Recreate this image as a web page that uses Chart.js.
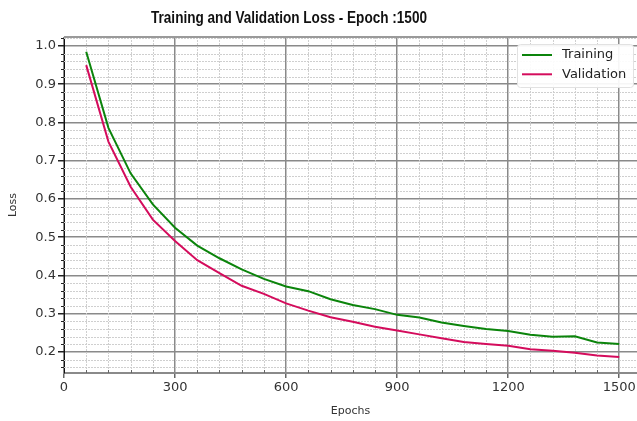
<!DOCTYPE html>
<html>
<head>
<meta charset="utf-8">
<script src="https://cdn.jsdelivr.net/npm/chart.js@4.4.1/dist/chart.umd.min.js"></script>
<style>
  html, body { margin: 0; padding: 0; background: #fff; }
  #wrap { width: 637px; height: 421px; position: relative; }
</style>
</head>
<body>
<div id="wrap"><canvas id="c" width="637" height="421"></canvas></div>
<script>
// Loss curves recorded every 60 epochs
const epochs = [60, 120, 180, 240, 300, 360, 420, 480, 540, 600, 660, 720, 780,
                840, 900, 960, 1020, 1080, 1140, 1200, 1260, 1320, 1380, 1440, 1500];
const trainingLoss = [0.985, 0.786, 0.667, 0.586, 0.525, 0.478, 0.445, 0.416, 0.391,
                      0.371, 0.359, 0.338, 0.323, 0.312, 0.297, 0.290, 0.277, 0.268,
                      0.260, 0.255, 0.245, 0.240, 0.241, 0.225, 0.221];
const validationLoss = [0.950, 0.750, 0.632, 0.546, 0.490, 0.440, 0.406, 0.373, 0.352,
                        0.327, 0.308, 0.291, 0.279, 0.266, 0.256, 0.246, 0.236, 0.226,
                        0.221, 0.216, 0.207, 0.203, 0.198, 0.191, 0.187];

// Axis ticks
const xMajorTicks = [0, 300, 600, 900, 1200, 1500];
const yMajorTicks = [0.2, 0.3, 0.4, 0.5, 0.6, 0.7, 0.8, 0.9, 1.0];
const xMinorStep = 60;
const yMinorStep = 0.02;

const titleText = 'Training and Validation Loss - Epoch :1500';
const seriesNames = ['Training', 'Validation'];
const seriesColors = ['#0b840b', '#d40c5c'];

const toPoints = (xs, ys) => xs.map((x, i) => ({ x: x, y: ys[i] }));

// Light dotted minor grid plus small minor tick marks
const minorGrid = {
  id: 'minorGrid',
  beforeDatasetsDraw(chart) {
    const { ctx, chartArea: a, scales: { x, y } } = chart;
    ctx.save();
    ctx.strokeStyle = '#cfcfcf';
    ctx.lineWidth = 1;
    ctx.setLineDash([2, 1]);
    ctx.beginPath();
    for (let v = 0; v <= x.max; v += xMinorStep) {
      if (v % 300 === 0) continue;
      const px = Math.round(x.getPixelForValue(v)) + 0.5;
      ctx.moveTo(px, a.top); ctx.lineTo(px, a.bottom);
    }
    for (let k = Math.ceil(y.min / yMinorStep); k * yMinorStep <= y.max; k++) {
      if (k % 5 === 0) continue;
      const py = Math.round(y.getPixelForValue(k * yMinorStep)) + 0.5;
      ctx.moveTo(a.left, py); ctx.lineTo(a.right, py);
    }
    ctx.stroke();
    ctx.setLineDash([]);
    // minor tick marks
    ctx.strokeStyle = '#222';
    ctx.beginPath();
    for (let k = Math.ceil(y.min / yMinorStep); k * yMinorStep <= y.max; k++) {
      if (k % 5 === 0) continue;
      const py = Math.round(y.getPixelForValue(k * yMinorStep)) + 0.5;
      ctx.moveTo(a.left - 3, py); ctx.lineTo(a.left, py);
    }
    ctx.stroke();
    ctx.strokeStyle = '#666';
    ctx.beginPath();
    for (let v = 0; v <= x.max; v += xMinorStep) {
      if (v % 300 === 0) continue;
      const px = Math.round(x.getPixelForValue(v)) + 0.5;
      ctx.moveTo(px, a.bottom - 3); ctx.lineTo(px, a.bottom);
    }
    ctx.stroke();
    // top frame line
    ctx.strokeStyle = '#9a9a9a';
    ctx.lineWidth = 2;
    ctx.beginPath();
    ctx.moveTo(a.left, a.top); ctx.lineTo(a.right, a.top);
    ctx.stroke();
    ctx.restore();
  }
};

// Title and boxed legend
const decorations = {
  id: 'decorations',
  afterDraw(chart) {
    const { ctx } = chart;
    ctx.save();
    // title
    ctx.font = 'bold 16px "Liberation Sans Narrow", "Liberation Sans", Arial, sans-serif';
    ctx.fillStyle = '#111';
    ctx.textAlign = 'center';
    ctx.textBaseline = 'alphabetic';
    const w = ctx.measureText(titleText).width;
    const target = 276;
    ctx.translate(289, 23);
    if (w > target + 4) ctx.scale(target / w, 1);
    ctx.fillText(titleText, 0, 0);
    ctx.setTransform(1, 0, 0, 1, 0, 0);

    // legend
    const bx = 517, by = 44, bw = 116, bh = 43;
    ctx.fillStyle = 'rgba(255,255,255,0.92)';
    ctx.strokeStyle = '#e2e2e2';
    ctx.lineWidth = 1;
    ctx.beginPath();
    ctx.roundRect(bx + 0.5, by + 0.5, bw, bh, 3);
    ctx.fill();
    ctx.stroke();
    ctx.font = '13px "DejaVu Sans", sans-serif';
    ctx.textAlign = 'left';
    ctx.textBaseline = 'middle';
    chart.data.datasets.forEach((ds, i) => {
      const cy = 55 + i * 19.3;
      ctx.strokeStyle = ds.borderColor;
      ctx.lineWidth = 2;
      ctx.beginPath();
      ctx.moveTo(522, cy); ctx.lineTo(552, cy);
      ctx.stroke();
      ctx.fillStyle = '#222';
      ctx.fillText(ds.label, 562, cy);
    });
    ctx.restore();
  }
};

new Chart(document.getElementById('c'), {
  type: 'line',
  data: {
    datasets: [
      { label: seriesNames[0], data: toPoints(epochs, trainingLoss),
        borderColor: seriesColors[0], borderWidth: 2, pointRadius: 0, tension: 0, fill: false },
      { label: seriesNames[1], data: toPoints(epochs, validationLoss),
        borderColor: seriesColors[1], borderWidth: 2, pointRadius: 0, tension: 0, fill: false }
    ]
  },
  options: {
    responsive: false,
    animation: false,
    layout: { padding: { top: 37, left: 0, right: 0, bottom: 0 } },
    plugins: {
      legend: { display: false },
      title: { display: false },
      tooltip: { enabled: false }
    },
    scales: {
      x: {
        type: 'linear',
        min: 0,
        max: 1548,
        afterBuildTicks: s => { s.ticks = xMajorTicks.map(v => ({ value: v })); },
        afterFit: s => { s.height = 48; s.paddingRight = 0; s.paddingLeft = 0; },
        ticks: {
          color: '#333',
          font: { family: '"DejaVu Sans", sans-serif', size: 13 },
          padding: 2,
          maxRotation: 0,
          callback: v => String(v)
        },
        grid: { color: '#8a8a8a', lineWidth: 1.5, tickLength: 5, tickColor: '#666' },
        border: { color: '#8a8a8a', width: 2 },
        title: {
          display: true, text: 'Epochs', color: '#333',
          font: { family: '"DejaVu Sans", sans-serif', size: 11 },
          padding: { top: 0, bottom: 3 }
        }
      },
      y: {
        type: 'linear',
        min: 0.145,
        max: 1.0235,
        afterBuildTicks: s => { s.ticks = yMajorTicks.map(v => ({ value: v })); },
        afterFit: s => { s.width = 64; },
        ticks: {
          color: '#333',
          font: { family: '"DejaVu Sans", sans-serif', size: 13 },
          padding: 2,
          callback: v => v.toFixed(1)
        },
        grid: { color: '#8a8a8a', lineWidth: 1.5, tickLength: 6, tickColor: '#222' },
        border: { color: '#111', width: 1 },
        title: {
          display: true, text: 'Loss', color: '#333',
          font: { family: '"DejaVu Sans", sans-serif', size: 11 },
          padding: { top: 7, bottom: 0 }
        }
      }
    }
  },
  plugins: [minorGrid, decorations]
});
</script>
</body>
</html>
